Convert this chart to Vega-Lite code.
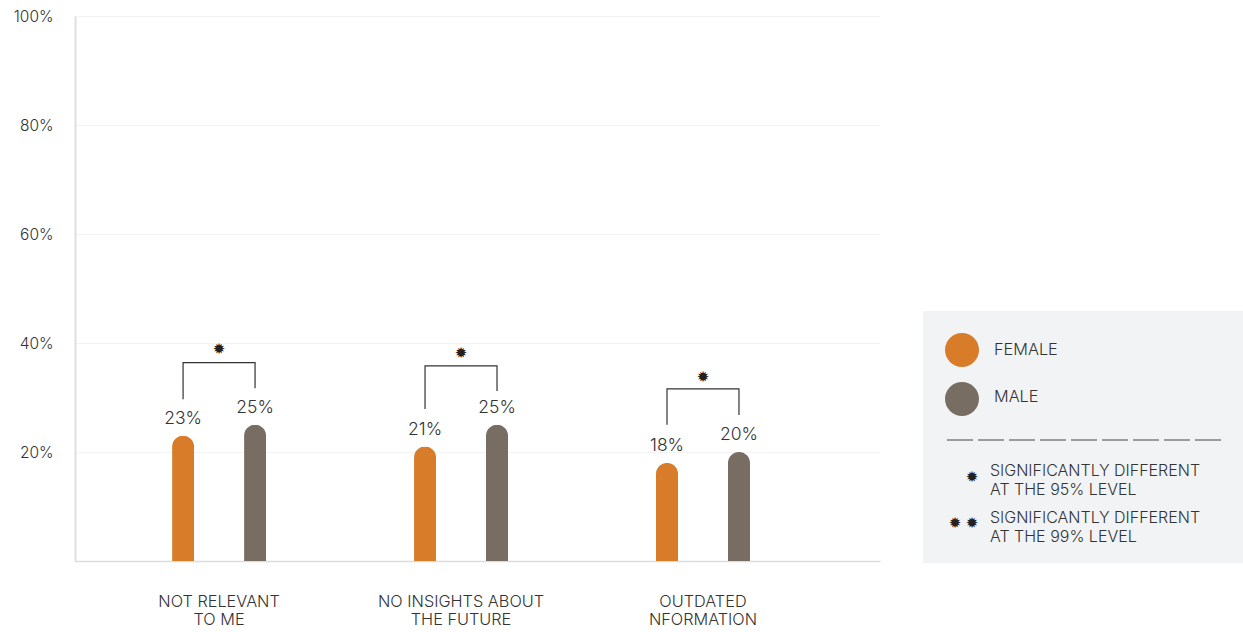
{
  "$schema": "https://vega.github.io/schema/vega-lite/v6.json",
  "padding": {"left": 5, "top": 9, "right": 0, "bottom": 0},
  "bounds": "flush",
  "spacing": 43,
  "config": {"font": "Inter", "view": {"stroke": null}, "axis": {"labelFontWeight": 300}, "text": {"fontWeight": 300}},
  "datasets": {
    "bars": [
      {"category": "NOT RELEVANT TO ME", "gender": "Female", "value": 0.23},
      {"category": "NOT RELEVANT TO ME", "gender": "Male", "value": 0.25},
      {"category": "NO INSIGHTS ABOUT THE FUTURE", "gender": "Female", "value": 0.21},
      {"category": "NO INSIGHTS ABOUT THE FUTURE", "gender": "Male", "value": 0.25},
      {"category": "OUTDATED NFORMATION", "gender": "Female", "value": 0.18},
      {"category": "OUTDATED NFORMATION", "gender": "Male", "value": 0.20}
    ],
    "brackets": [
      {"category": "NOT RELEVANT TO ME", "gender": "Female", "level": 0.297, "ord": 1},
      {"category": "NOT RELEVANT TO ME", "gender": "Female", "level": 0.364, "ord": 2},
      {"category": "NOT RELEVANT TO ME", "gender": "Male", "level": 0.364, "ord": 3},
      {"category": "NOT RELEVANT TO ME", "gender": "Male", "level": 0.317, "ord": 4},
      {"category": "NO INSIGHTS ABOUT THE FUTURE", "gender": "Female", "level": 0.279, "ord": 1},
      {"category": "NO INSIGHTS ABOUT THE FUTURE", "gender": "Female", "level": 0.358, "ord": 2},
      {"category": "NO INSIGHTS ABOUT THE FUTURE", "gender": "Male", "level": 0.358, "ord": 3},
      {"category": "NO INSIGHTS ABOUT THE FUTURE", "gender": "Male", "level": 0.312, "ord": 4},
      {"category": "OUTDATED NFORMATION", "gender": "Female", "level": 0.250, "ord": 1},
      {"category": "OUTDATED NFORMATION", "gender": "Female", "level": 0.316, "ord": 2},
      {"category": "OUTDATED NFORMATION", "gender": "Male", "level": 0.316, "ord": 3},
      {"category": "OUTDATED NFORMATION", "gender": "Male", "level": 0.268, "ord": 4}
    ],
    "stars": [
      {"category": "NOT RELEVANT TO ME", "level": 0.389},
      {"category": "NO INSIGHTS ABOUT THE FUTURE", "level": 0.382},
      {"category": "OUTDATED NFORMATION", "level": 0.338}
    ]
  },
  "hconcat": [
    {
      "width": 805,
      "height": 545,
      "encoding": {
        "x": {
          "field": "category",
          "type": "nominal",
          "sort": ["NOT RELEVANT TO ME", "NO INSIGHTS ABOUT THE FUTURE", "OUTDATED NFORMATION"],
          "scale": {"paddingInner": 0.405, "paddingOuter": 0.366, "align": 0.407},
          "axis": {
            "title": null,
            "labelAngle": 0,
            "ticks": false,
            "domainColor": "#dcdcdc",
            "domainWidth": 1.5,
            "labelPadding": 32,
            "labelFontSize": 16.3,
            "labelColor": "#333333",
            "labelLineHeight": 18,
            "labelExpr": "datum.value == 'NOT RELEVANT TO ME' ? ['NOT RELEVANT', 'TO ME'] : datum.value == 'NO INSIGHTS ABOUT THE FUTURE' ? ['NO INSIGHTS ABOUT', 'THE FUTURE'] : ['OUTDATED', 'NFORMATION']"
          }
        }
      },
      "layer": [
        {
          "data": {"name": "bars"},
          "mark": {"type": "bar", "cornerRadiusTopLeft": 11, "cornerRadiusTopRight": 11},
          "encoding": {
            "xOffset": {"field": "gender", "type": "nominal", "sort": ["Female", "Male"], "scale": {"paddingInner": 0.694, "paddingOuter": 0.347}},
            "y": {
              "field": "value",
              "type": "quantitative",
              "scale": {"domain": [0, 1], "nice": false},
              "axis": {
                "title": null,
                "values": [0.2, 0.4, 0.6, 0.8, 1],
                "format": ".0%",
                "grid": true,
                "gridColor": "#f3f3f3",
                "ticks": false,
                "domainColor": "#e0e0e0",
                "domainWidth": 2,
                "labelPadding": 22,
                "labelFontSize": 15.5,
                "labelColor": "#333333",
                "minExtent": 70,
                "maxExtent": 70
              }
            },
            "color": {"field": "gender", "type": "nominal", "scale": {"domain": ["Female", "Male"], "range": ["#D87C2A", "#776D62"]}, "legend": null}
          }
        },
        {
          "data": {"name": "bars"},
          "mark": {"type": "text", "dy": -17, "fontSize": 17.5, "color": "#333333", "baseline": "middle"},
          "encoding": {
            "xOffset": {"field": "gender", "type": "nominal", "sort": ["Female", "Male"]},
            "y": {"field": "value", "type": "quantitative"},
            "text": {"field": "value", "type": "quantitative", "format": ".0%"}
          }
        },
        {
          "data": {"name": "brackets"},
          "mark": {"type": "line", "color": "#333333", "strokeWidth": 1.2},
          "encoding": {
            "xOffset": {"field": "gender", "type": "nominal", "sort": ["Female", "Male"]},
            "y": {"field": "level", "type": "quantitative"},
            "detail": {"field": "category"},
            "order": {"field": "ord", "type": "quantitative"}
          }
        },
        {
          "data": {"name": "stars"},
          "mark": {"type": "text", "text": "✹", "font": "DejaVu Sans", "fontWeight": "normal", "fontSize": 15, "color": "#222222", "baseline": "middle"},
          "encoding": {
            "y": {"field": "level", "type": "quantitative"}
          }
        }
      ]
    },
    {
      "width": 320,
      "height": 547,
      "encoding": {
        "x": {"field": "x", "type": "quantitative", "scale": {"domain": [0, 320], "nice": false, "zero": false}, "axis": null},
        "y": {"field": "y", "type": "quantitative", "scale": {"domain": [0, 547], "nice": false, "zero": false}, "axis": null}
      },
      "layer": [
        {
          "data": {"values": [{"x": 0, "x2": 320, "y": 0, "y2": 252}]},
          "mark": {"type": "rect", "color": "#F2F3F5"},
          "encoding": {"x2": {"field": "x2"}, "y2": {"field": "y2"}}
        },
        {
          "data": {"values": [
            {"gender": "Female", "label": "FEMALE", "x": 39, "y": 213},
            {"gender": "Male", "label": "MALE", "x": 39, "y": 164}
          ]},
          "mark": {"type": "point", "filled": true, "shape": "circle", "size": 1156, "opacity": 1},
          "encoding": {
            "color": {"field": "gender", "type": "nominal", "scale": {"domain": ["Female", "Male"], "range": ["#D87C2A", "#776D62"]}, "legend": null}
          }
        },
        {
          "data": {"values": [
            {"label": "FEMALE", "x": 71, "y": 213},
            {"label": "MALE", "x": 71, "y": 166}
          ]},
          "mark": {"type": "text", "align": "left", "baseline": "middle", "fontSize": 16.3, "color": "#333333"},
          "encoding": {"text": {"field": "label"}}
        },
        {
          "data": {"values": [{"x": 24, "x2": 298, "y": 123}]},
          "mark": {"type": "rule", "color": "#444444", "strokeWidth": 1, "strokeDash": [26, 5]},
          "encoding": {"x2": {"field": "x2"}}
        },
        {
          "data": {"values": [
            {"x": 49, "y": 86},
            {"x": 32, "y": 40},
            {"x": 49, "y": 40}
          ]},
          "mark": {"type": "text", "text": "✹", "font": "DejaVu Sans", "fontWeight": "normal", "fontSize": 15, "color": "#222222", "baseline": "middle"}
        },
        {
          "data": {"values": [
            {"label": "SIGNIFICANTLY DIFFERENT\nAT THE 95% LEVEL", "x": 67, "y": 92},
            {"label": "SIGNIFICANTLY DIFFERENT\nAT THE 99% LEVEL", "x": 67, "y": 45}
          ]},
          "mark": {"type": "text", "align": "left", "baseline": "middle", "fontSize": 16, "lineHeight": 19, "lineBreak": "\n", "color": "#333333"},
          "encoding": {"text": {"field": "label"}}
        }
      ]
    }
  ]
}
